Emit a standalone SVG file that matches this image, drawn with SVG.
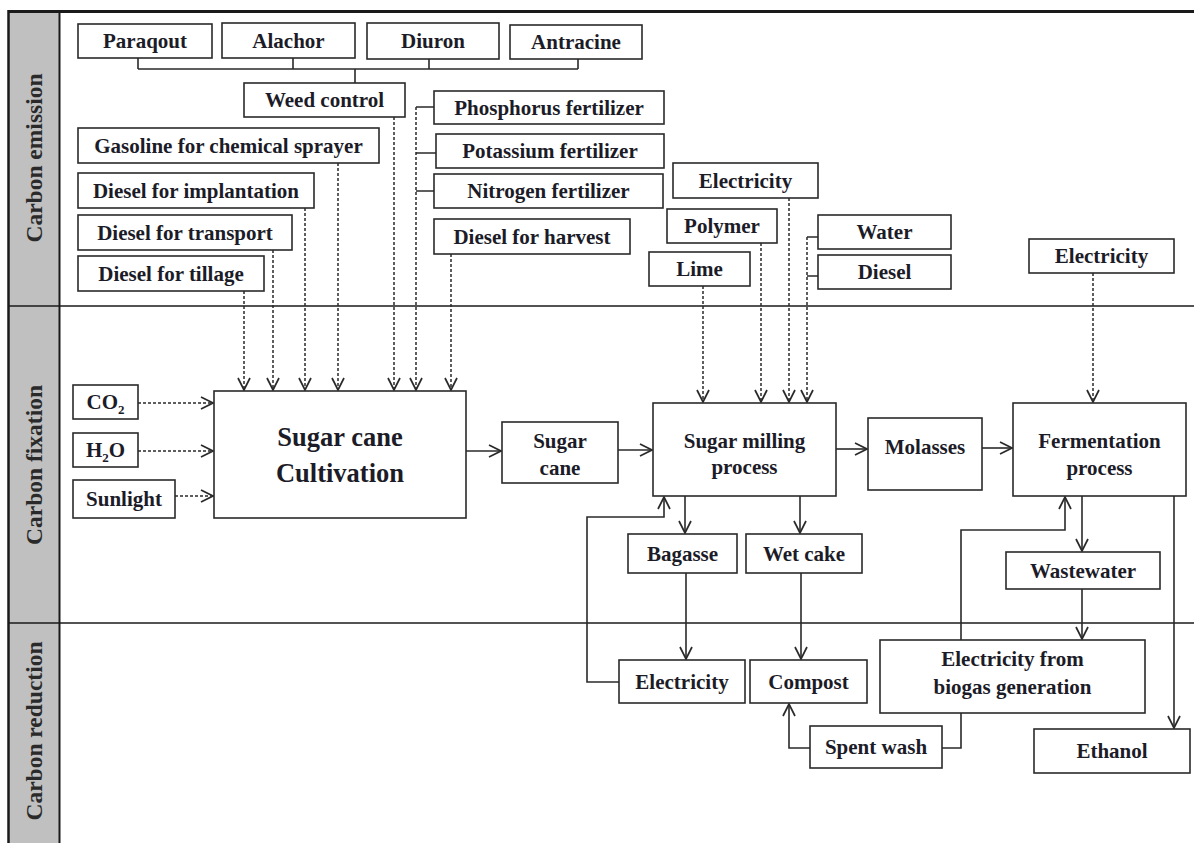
<svg xmlns="http://www.w3.org/2000/svg" width="1194" height="843" viewBox="0 0 1194 843">
<style>
  .box { fill: #ffffff; stroke: #2a2a2a; stroke-width: 1.6; }
  .t { font-family: "Liberation Serif", "Times New Roman", serif; font-weight: bold; font-size: 21px; fill: #1c1c28; text-anchor: middle; dominant-baseline: central; }
  .big { font-size: 26.5px; }
  .lane { font-family: "Liberation Serif", "Times New Roman", serif; font-weight: bold; font-size: 23.5px; fill: #2a2a2a; text-anchor: middle; dominant-baseline: central; }
  .frame { stroke: #1a1a1a; fill: none; }
  .solid { stroke: #2a2a2a; stroke-width: 1.6; fill: none; }
  .dash { stroke: #2a2a2a; stroke-width: 1.5; fill: none; stroke-dasharray: 3 2; }
  .arr { marker-end: url(#ah); }
</style>
<defs>
  <marker id="ah" markerUnits="userSpaceOnUse" markerWidth="14" markerHeight="14" viewBox="0 0 14 14" refX="13" refY="7" orient="auto">
    <path d="M1,1 L13,7 L1,13" fill="none" stroke="#2a2a2a" stroke-width="1.7"/>
  </marker>
</defs>
<rect x="0" y="0" width="1194" height="843" fill="#ffffff"/>

<g id="frame">
  <rect x="8" y="11" width="51" height="832" fill="#c0c0c0"/>
  <line class="frame" x1="8" y1="11.5" x2="1194" y2="11.5" stroke-width="3"/>
  <line class="frame" x1="8.5" y1="10" x2="8.5" y2="843" stroke-width="2.5"/>
  <line class="frame" x1="59.5" y1="11" x2="59.5" y2="843" stroke-width="2"/>
  <line class="frame" x1="8" y1="306" x2="1194" y2="306" stroke-width="1.5"/>
  <line class="frame" x1="8" y1="623" x2="1194" y2="623" stroke-width="1.5"/>
  <text class="lane" transform="translate(34,158) rotate(-90)">Carbon emission</text>
  <text class="lane" transform="translate(34,465) rotate(-90)">Carbon fixation</text>
  <text class="lane" transform="translate(34,731) rotate(-90)">Carbon reduction</text>
</g>

<g id="connectors">
  <path class="solid" d="M138,58 V69 M293,58 V69 M429,59 V69 M578,59 V69 M138,69 H578 M355,69 V83"/>
  <path class="dash arr" d="M244,291 V390"/>
  <path class="dash arr" d="M273,250 V390"/>
  <path class="dash arr" d="M305,208 V390"/>
  <path class="dash arr" d="M338,163 V390"/>
  <path class="dash arr" d="M394,117 V390"/>
  <path class="dash arr" d="M416,107 V390"/>
  <path class="solid" d="M416,107 H434 M416,153 H436 M416,191 H434"/>
  <path class="dash arr" d="M451,254 V390"/>
  <path class="dash arr" d="M138,403 H213"/>
  <path class="dash arr" d="M138,451 H213"/>
  <path class="dash arr" d="M175,496 H213"/>
  <path class="dash arr" d="M703,286 V402"/>
  <path class="dash arr" d="M761,243 V402"/>
  <path class="dash arr" d="M789,198 V402"/>
  <path class="dash arr" d="M807,237 V402"/>
  <path class="solid" d="M807,237 H818 M807,276 H818"/>
  <path class="dash arr" d="M1093,273 V402"/>
  <path class="solid arr" d="M466,451 H501" stroke-width="2.6"/>
  <path class="solid arr" d="M618,450 H652"/>
  <path class="solid arr" d="M836,449 H867"/>
  <path class="solid arr" d="M982,448 H1012"/>
  <path class="solid arr" d="M685,496 V533"/>
  <path class="solid arr" d="M800,496 V533"/>
  <path class="solid arr" d="M686,573 V659"/>
  <path class="solid arr" d="M801,573 V659"/>
  <path class="solid arr" d="M619,682 H587 V517 H664 V497"/>
  <path class="solid arr" d="M1082,496 V551"/>
  <path class="solid arr" d="M1082,589 V639"/>
  <path class="solid arr" d="M961,640 V530 H1065 V497"/>
  <path class="solid arr" d="M810,748 H789 V704"/>
  <path class="solid" d="M942,748 H961 V713"/>
  <path class="solid arr" d="M1174,496 V728"/>
</g>

<g id="paraqout"><rect class="box" x="78" y="24" width="134" height="34"/><text class="t" x="145" y="41">Paraqout</text></g>
<g id="alachor"><rect class="box" x="222" y="23" width="133" height="35"/><text class="t" x="288.5" y="40.5">Alachor</text></g>
<g id="diuron"><rect class="box" x="367" y="23" width="132" height="36"/><text class="t" x="433" y="41">Diuron</text></g>
<g id="antracine"><rect class="box" x="510" y="25" width="132" height="34"/><text class="t" x="576" y="42">Antracine</text></g>
<g id="weed-control"><rect class="box" x="244" y="83" width="161" height="34"/><text class="t" x="324.5" y="100">Weed control</text></g>
<g id="gasoline"><rect class="box" x="78" y="128" width="301" height="35"/><text class="t" x="228.5" y="145.5">Gasoline for chemical sprayer</text></g>
<g id="diesel-implantation"><rect class="box" x="78" y="173" width="236" height="35"/><text class="t" x="196" y="190.5">Diesel for implantation</text></g>
<g id="diesel-transport"><rect class="box" x="78" y="215" width="214" height="35"/><text class="t" x="185" y="232.5">Diesel for transport</text></g>
<g id="diesel-tillage"><rect class="box" x="78" y="256" width="186" height="35"/><text class="t" x="171" y="273.5">Diesel for tillage</text></g>
<g id="phosphorus"><rect class="box" x="434" y="91" width="230" height="33"/><text class="t" x="549" y="107.5">Phosphorus fertilizer</text></g>
<g id="potassium"><rect class="box" x="436" y="134" width="228" height="34"/><text class="t" x="550" y="151">Potassium fertilizer</text></g>
<g id="nitrogen"><rect class="box" x="434" y="174" width="229" height="34"/><text class="t" x="548.5" y="191">Nitrogen fertilizer</text></g>
<g id="diesel-harvest"><rect class="box" x="434" y="219" width="196" height="35"/><text class="t" x="532" y="236.5">Diesel for harvest</text></g>
<g id="electricity-mill"><rect class="box" x="673" y="163" width="145" height="35"/><text class="t" x="745.5" y="180.5">Electricity</text></g>
<g id="polymer"><rect class="box" x="667" y="209" width="110" height="34"/><text class="t" x="722" y="226">Polymer</text></g>
<g id="lime"><rect class="box" x="649" y="252" width="101" height="34"/><text class="t" x="699.5" y="269">Lime</text></g>
<g id="water"><rect class="box" x="818" y="215" width="133" height="34"/><text class="t" x="884.5" y="232">Water</text></g>
<g id="diesel"><rect class="box" x="818" y="255" width="133" height="34"/><text class="t" x="884.5" y="272">Diesel</text></g>
<g id="electricity-ferm"><rect class="box" x="1029" y="239" width="145" height="34"/><text class="t" x="1101.5" y="256">Electricity</text></g>

<g id="co2"><rect class="box" x="73" y="385" width="65" height="34"/><text class="t" x="105.5" y="402">CO<tspan font-size="13" baseline-shift="sub">2</tspan></text></g>
<g id="h2o"><rect class="box" x="73" y="433" width="65" height="34"/><text class="t" x="105.5" y="450">H<tspan font-size="13" baseline-shift="sub">2</tspan>O</text></g>
<g id="sunlight"><rect class="box" x="73" y="480" width="102" height="38"/><text class="t" x="124" y="499">Sunlight</text></g>
<g id="cultivation"><rect class="box" x="214" y="391" width="252" height="127"/><text class="t big" x="340" y="437">Sugar cane</text><text class="t big" x="340" y="473">Cultivation</text></g>
<g id="sugar-cane"><rect class="box" x="502" y="422" width="116" height="61"/><text class="t" x="560" y="441">Sugar</text><text class="t" x="560" y="468">cane</text></g>
<g id="milling"><rect class="box" x="653" y="403" width="183" height="93"/><text class="t" x="744.5" y="441">Sugar milling</text><text class="t" x="744.5" y="467">process</text></g>
<g id="molasses"><rect class="box" x="868" y="418" width="114" height="72"/><text class="t" x="925" y="447">Molasses</text></g>
<g id="fermentation"><rect class="box" x="1013" y="403" width="173" height="93"/><text class="t" x="1099.5" y="441">Fermentation</text><text class="t" x="1099.5" y="468">process</text></g>
<g id="bagasse"><rect class="box" x="628" y="534" width="109" height="39"/><text class="t" x="682.5" y="553.5">Bagasse</text></g>
<g id="wet-cake"><rect class="box" x="746" y="534" width="116" height="39"/><text class="t" x="804" y="553.5">Wet cake</text></g>
<g id="wastewater"><rect class="box" x="1006" y="552" width="154" height="37"/><text class="t" x="1083" y="570.5">Wastewater</text></g>
<g id="electricity-red"><rect class="box" x="619" y="660" width="126" height="43"/><text class="t" x="682" y="681.5">Electricity</text></g>
<g id="compost"><rect class="box" x="750" y="660" width="117" height="43"/><text class="t" x="808.5" y="681.5">Compost</text></g>
<g id="biogas"><rect class="box" x="880" y="640" width="265" height="73"/><text class="t" x="1012.5" y="659">Electricity from</text><text class="t" x="1012.5" y="687">biogas generation</text></g>
<g id="spent-wash"><rect class="box" x="810" y="726" width="132" height="42"/><text class="t" x="876" y="747">Spent wash</text></g>
<g id="ethanol"><rect class="box" x="1034" y="729" width="156" height="44"/><text class="t" x="1112" y="751">Ethanol</text></g>
</svg>
